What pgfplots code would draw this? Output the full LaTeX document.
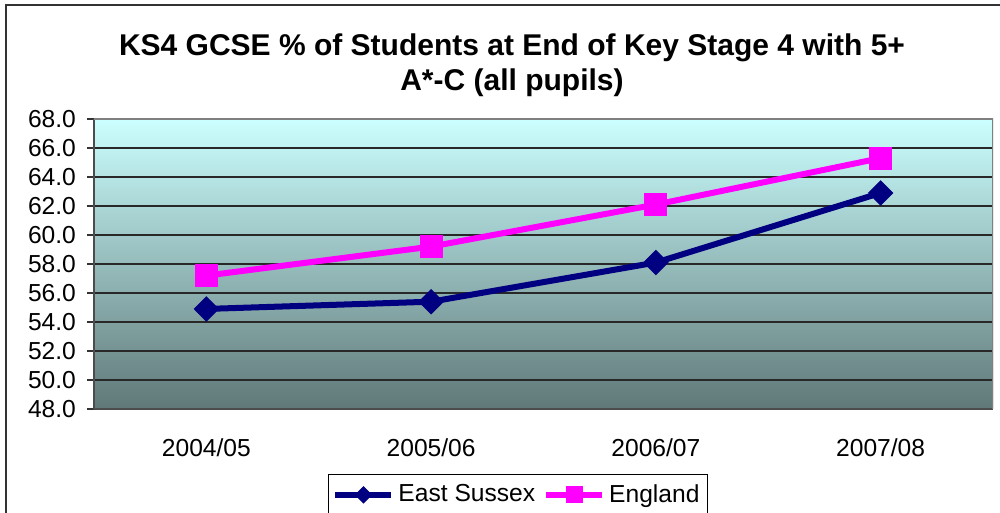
\documentclass[border=0pt]{standalone}
\usepackage{pgfplots}
\pgfplotsset{compat=1.18}
\usepackage{fontspec}
\setmainfont{Liberation Sans}
\definecolor{navyc}{RGB}{0,0,128}
\definecolor{magc}{RGB}{255,0,255}
\definecolor{topc}{RGB}{204,255,255}
\definecolor{botc}{RGB}{96,120,120}
\definecolor{gridc}{RGB}{40,40,40}
\begin{document}
\begin{tikzpicture}
\useasboundingbox (-47pt,-52pt) rectangle (453pt,204.5pt);
\draw[line width=1pt, black!80] (-44pt,-70pt) -- (-44pt,202pt) -- (470pt,202pt);
\node[font=\fontsize{15pt}{17.5pt}\selectfont\bfseries, align=center] at (209pt,172pt)
  {KS4 GCSE \% of Students at End of Key Stage 4 with 5+\\A*-C (all pupils)};
\begin{axis}[
  at={(0,0)}, anchor=south west,
  scale only axis, width=449.5pt, height=145pt,
  xmin=-0.5, xmax=3.5, ymin=48, ymax=68,
  ytick={48,50,...,68},
  xtick={0,1,2,3},
  xticklabels={2004/05,2005/06,2006/07,2007/08},
  extra x ticks={-0.5,0.5,1.5,2.5,3.5},
  extra x tick labels={},
  extra x tick style={major tick length=4pt, tick style={black!80, line width=0.6pt}, grid=none},
  x tick style={draw=none},
  major tick length=3.5pt,
  tick align=outside,
  y tick style={black!80, line width=0.6pt},
  ymajorgrids,
  grid style={gridc, line width=0.6pt},
  y tick label style={/pgf/number format/fixed, /pgf/number format/fixed zerofill, /pgf/number format/precision=1, xshift=-2pt},
  /pgf/number format/assume math mode=true,
  ticklabel style={font=\fontsize{12.3pt}{14pt}\selectfont},
  x tick label style={yshift=-8pt},
  axis line style={black!70, line width=0.6pt},
  separate axis lines,
  axis x line*=bottom, axis y line*=left,
  axis background/.style={shade, top color=topc, bottom color=botc},
  legend style={at={(0.4716,-0.224)}, anchor=north, legend columns=2,
    draw=black, line width=0.5pt, font=\fontsize{12.3pt}{14pt}\selectfont,
    inner xsep=2pt, inner ysep=3pt, /tikz/every even column/.append style={column sep=2pt}},
  legend image code/.code={
    \draw[#1] (0pt,0pt) -- (28pt,0pt);
    \draw[#1, mark size=4pt] plot coordinates {(14pt,0pt)};
  },
]
\addplot[color=navyc, line width=3pt, mark=diamond*, mark size=6pt,
  mark options={solid, xscale=1.33, line width=0.5pt, fill=navyc}]
  coordinates {(0,54.9) (1,55.4) (2,58.1) (3,62.9)};
\addlegendentry{East Sussex}
\addplot[color=magc, line width=3pt, mark=square*, mark size=5.5pt,
  mark options={solid, line width=0.5pt, fill=magc}]
  coordinates {(0,57.2) (1,59.2) (2,62.1) (3,65.3)};
\addlegendentry{England}
\draw[black!50, line width=0.8pt] (rel axis cs:0,1) -- (rel axis cs:1,1) -- (rel axis cs:1,0);
\end{axis}
\end{tikzpicture}
\end{document}
